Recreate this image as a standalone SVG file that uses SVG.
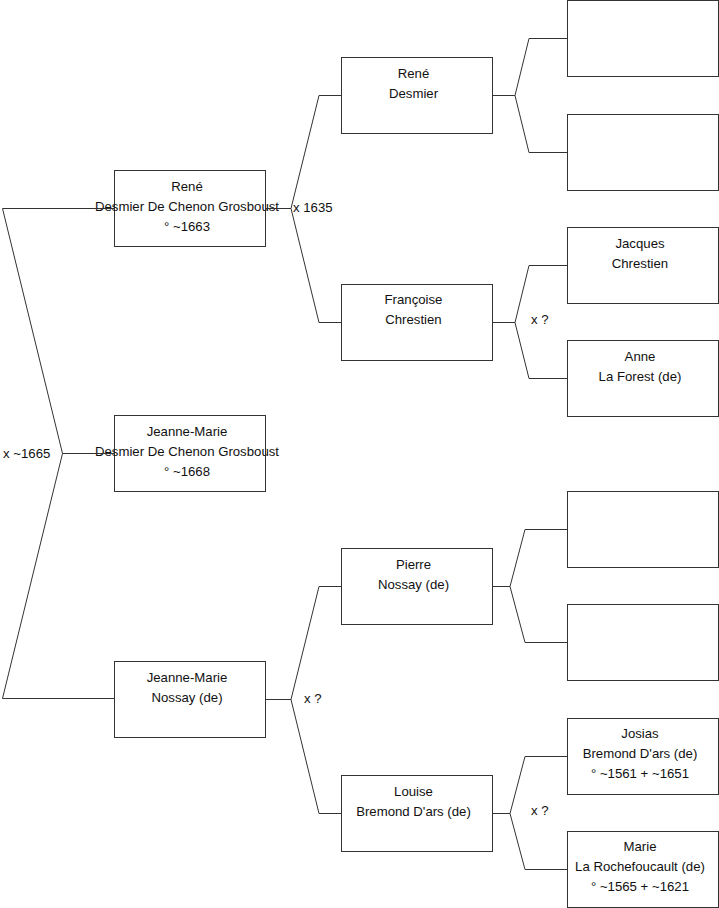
<svg xmlns="http://www.w3.org/2000/svg" width="719" height="908" viewBox="0 0 719 908">
<style>
.box{fill:#fff;stroke:#333;stroke-width:1}
text{font-family:"Liberation Sans",Arial,sans-serif;font-size:13.2px;fill:#111}
.c{text-anchor:middle}
.ln{fill:none;stroke:#333;stroke-width:1}
</style>
<rect width="719" height="908" fill="#fff"/>
<g id="n-rene-dcg"><rect class="box" x="114.5" y="170.5" width="151" height="76"/><text class="c" x="187" y="191">René</text><text class="c" x="187" y="211">Desmier De Chenon Grosboust</text><text class="c" x="187" y="231">° ~1663</text></g>
<g id="n-jeanne-marie-dcg"><rect class="box" x="114.5" y="415.5" width="151" height="76"/><text class="c" x="187" y="436">Jeanne-Marie</text><text class="c" x="187" y="456">Desmier De Chenon Grosboust</text><text class="c" x="187" y="476">° ~1668</text></g>
<g id="n-jeanne-marie-nossay"><rect class="box" x="114.5" y="661.5" width="151" height="76"/><text class="c" x="187" y="682">Jeanne-Marie</text><text class="c" x="187" y="702">Nossay (de)</text></g>
<g id="n-rene-desmier"><rect class="box" x="341.5" y="57.5" width="151" height="76"/><text class="c" x="413.5" y="78">René</text><text class="c" x="413.5" y="98">Desmier</text></g>
<g id="n-francoise"><rect class="box" x="341.5" y="284.5" width="151" height="76"/><text class="c" x="413.5" y="304">Françoise</text><text class="c" x="413.5" y="324">Chrestien</text></g>
<g id="n-pierre"><rect class="box" x="341.5" y="548.5" width="151" height="76"/><text class="c" x="413.5" y="569">Pierre</text><text class="c" x="413.5" y="589">Nossay (de)</text></g>
<g id="n-louise"><rect class="box" x="341.5" y="775.5" width="151" height="76"/><text class="c" x="413.5" y="796">Louise</text><text class="c" x="413.5" y="816">Bremond D'ars (de)</text></g>
<g id="n-empty1"><rect class="box" x="567.5" y="0.5" width="151" height="76"/></g>
<g id="n-empty2"><rect class="box" x="567.5" y="114.5" width="151" height="76"/></g>
<g id="n-jacques"><rect class="box" x="567.5" y="227.5" width="151" height="76"/><text class="c" x="640" y="248">Jacques</text><text class="c" x="640" y="268">Chrestien</text></g>
<g id="n-anne"><rect class="box" x="567.5" y="340.5" width="151" height="76"/><text class="c" x="640" y="361">Anne</text><text class="c" x="640" y="381">La Forest (de)</text></g>
<g id="n-empty3"><rect class="box" x="567.5" y="491.5" width="151" height="76"/></g>
<g id="n-empty4"><rect class="box" x="567.5" y="604.5" width="151" height="76"/></g>
<g id="n-josias"><rect class="box" x="567.5" y="718.5" width="151" height="76"/><text class="c" x="640" y="738">Josias</text><text class="c" x="640" y="758">Bremond D'ars (de)</text><text class="c" x="640" y="778">° ~1561 + ~1651</text></g>
<g id="n-marie"><rect class="box" x="567.5" y="831.5" width="151" height="76"/><text class="c" x="640" y="851">Marie</text><text class="c" x="640" y="871">La Rochefoucault (de)</text><text class="c" x="640" y="891">° ~1565 + ~1621</text></g>
<g id="connectors">
<path class="ln" d="M114,208.5 H2.5 L62.5,453.5 L2.5,698.5 H114 M62.5,453.5 H114"/>
<path class="ln" d="M265,208.5 H291 L319,95.5 H341 M291,208.5 L319,322.5 H341"/>
<path class="ln" d="M492,95.5 H515 L529,38.5 H567 M515,95.5 L529,152.5 H567"/>
<path class="ln" d="M492,322.5 H515 L529,265.5 H567 M515,322.5 L529,378.5 H567"/>
<path class="ln" d="M265,699.5 H291 L319,586.5 H341 M291,699.5 L319,813.5 H341"/>
<path class="ln" d="M492,586.5 H510 L525,529.5 H567 M510,586.5 L525,642.5 H567"/>
<path class="ln" d="M492,813.5 H510 L525,756.5 H567 M510,813.5 L525,869.5 H567"/>
<text x="3" y="458">x ~1665</text>
<text x="293" y="212">x 1635</text>
<text x="531" y="324">x ?</text>
<text x="304" y="703">x ?</text>
<text x="531" y="815">x ?</text>
</g>
</svg>
